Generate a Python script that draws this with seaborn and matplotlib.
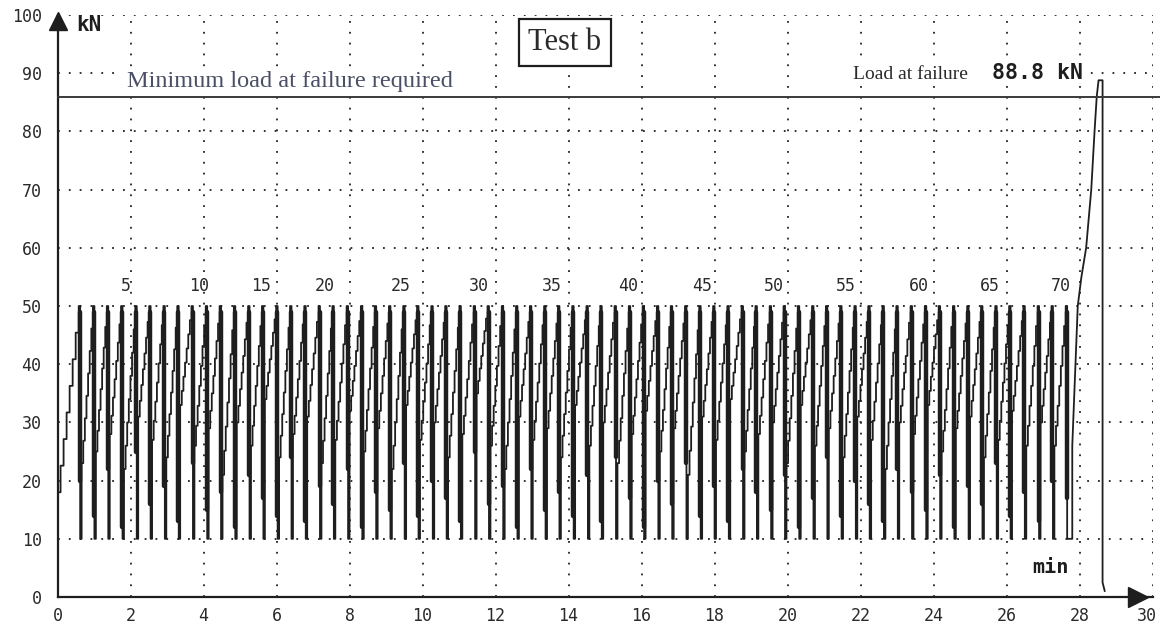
import numpy as np
import pandas as pd
import matplotlib
matplotlib.use("Agg")
import matplotlib.pyplot as plt
import matplotlib.transforms as mtransforms
import seaborn as sns

# ---- data ----
drop_times = [0.62, 1.01, 1.39, 1.78, 2.17, 2.55, 2.94, 3.32, 3.71, 4.10,
              4.48, 4.87, 5.26, 5.64, 6.03, 6.41, 6.80, 7.19, 7.57, 7.96,
              8.35, 8.73, 9.12, 9.51, 9.89, 10.28, 10.66, 11.05, 11.44, 11.82,
              12.21, 12.60, 12.98, 13.37, 13.75, 14.14, 14.53, 14.91, 15.30, 15.69,
              16.07, 16.46, 16.84, 17.23, 17.62, 18.00, 18.39, 18.78, 19.16, 19.55,
              19.93, 20.32, 20.71, 21.09, 21.48, 21.87, 22.25, 22.64, 23.02, 23.41,
              23.80, 24.18, 24.57, 24.96, 25.34, 25.73, 26.11, 26.50, 26.89, 27.27,
              27.66]
start_levels = [18, 23, 25, 28, 22, 31, 27, 24, 33, 26,
                29, 21, 30, 26, 34, 24, 28, 31, 23, 27,
                32, 25, 29, 22, 33, 27, 30, 24, 28, 35,
                26, 22, 31, 27, 29, 24, 33, 26, 30, 23,
                28, 32, 25, 29, 21, 31, 27, 34, 25, 28,
                30, 23, 33, 26, 29, 24, 31, 27, 22, 30,
                28, 33, 25, 29, 31, 24, 27, 32, 26, 30,
                26]
thick_lows = [20, 14, 22, 12, 25, 16, 19, 13, 23, 15,
              18, 12, 21, 17, 14, 24, 13, 19, 16, 22,
              12, 18, 15, 23, 14, 20, 17, 13, 25, 16,
              19, 12, 22, 15, 18, 14, 21, 13, 24, 17,
              12, 20, 16, 23, 14, 19, 13, 22, 18, 15,
              21, 12, 17, 24, 14, 20, 16, 13, 22, 18,
              15, 21, 12, 19, 16, 23, 14, 18, 13, 20,
              17]
peak_load = 50.0
valley_load = 10.0
ramp_t = [27.80, 27.80, 27.95, 28.05, 28.18, 28.32, 28.41, 28.47, 28.52, 28.63, 28.63, 28.69]
ramp_load = [10.0, 26.0, 50.0, 55.0, 60.0, 70.0, 80.0, 86.0, 88.8, 88.8, 2.5, 1.0]
min_required = 86.0
failure_load = 88.8
cycle_label_n = [5, 10, 15, 20, 25, 30, 35, 40, 45, 50, 55, 60, 65, 70]
cycle_label_t = [1.88, 3.87, 5.57, 7.31, 9.41, 11.54, 13.53, 15.63, 17.65, 19.62,
                 21.60, 23.60, 25.54, 27.48]
x_ticks = list(range(0, 31, 2))
y_ticks = list(range(0, 101, 10))

# ---- build the load trace (staircase loading, fast unloading) ----
n_steps = 7
ts, ls = [], []
prev_end = 0.0
for i, (td, lo) in enumerate(zip(drop_times, start_levels)):
    t0 = prev_end + (0.0 if i == 0 else 0.04)
    if i > 0:
        ts += [t0]
        ls += [valley_load]
    t_top = td - 0.04
    levels = np.linspace(lo, peak_load, n_steps + 1)
    times = np.linspace(t0, t_top, n_steps + 1)
    for k in range(n_steps):
        ts += [times[k], times[k + 1]]
        ls += [levels[k], levels[k]]
    ts += [t_top, td, td]
    ls += [peak_load, peak_load, valley_load]
    prev_end = td
ts += ramp_t
ls += ramp_load
trace = pd.DataFrame({"t": ts, "load": ls})

thick = pd.DataFrame({
    "t": np.repeat(drop_times, 2) - 0.012,
    "load": np.ravel([[peak_load - 1, lo] for lo in thick_lows]),
    "g": np.repeat(np.arange(len(drop_times)), 2),
})

# ---- figure ----
sns.set_theme(style="white")
plt.rcParams["font.family"] = ["DejaVu Sans Mono"]
fig = plt.figure(figsize=(11.6, 6.25), dpi=100)
ax = fig.add_axes([0.0496, 0.0448, 0.944, 0.931])

ink = "#1e1e1e"
grid_kw = dict(color="#222222", linestyle=(0, (1, 5)), lw=1.3, zorder=0.5)

ax.set_xlim(0, 30)
ax.set_ylim(0, 100)

# dotted grid (the 90 kN line is interrupted by the annotation band)
for v in x_ticks[1:]:
    ax.axvline(v, **grid_kw)
for v in y_ticks[1:]:
    if v == 90:
        ax.hlines(v, 0, 1.75, **grid_kw)
        ax.hlines(v, 28.0, 30, **grid_kw)
    else:
        ax.axhline(v, **grid_kw)

sns.lineplot(data=trace, x="t", y="load", ax=ax, sort=False, estimator=None,
             color=ink, lw=1.3, zorder=3)
sns.lineplot(data=thick, x="t", y="load", units="g", ax=ax, estimator=None,
             sort=False, color=ink, lw=3.2, zorder=3)

ax.set_xticks(x_ticks)
ax.set_yticks(y_ticks)
ax.set_xticklabels([str(v) for v in x_ticks], fontsize=12, color="#2a2a2a")
ax.set_yticklabels([str(v) for v in y_ticks], fontsize=12, color="#2a2a2a")
ax.tick_params(axis="both", direction="inout", length=7, width=1.2, color=ink)
ax.tick_params(axis="y", pad=8)
ax.tick_params(axis="x", pad=4)
last = ax.get_xticklabels()[-1]
last.set_transform(last.get_transform() + mtransforms.ScaledTranslation(-6 / 100, 0, fig.dpi_scale_trans))
ax.set_xlabel("")
ax.set_ylabel("")
ax.grid(False)
for s in ["top", "right"]:
    ax.spines[s].set_visible(False)
for s in ["left", "bottom"]:
    ax.spines[s].set_color(ink)
    ax.spines[s].set_linewidth(1.6)

# axis arrows
ax.plot([0], [99], marker="^", markersize=13, color=ink, clip_on=False, zorder=5)
ax.plot([29.6], [0], marker=">", markersize=14, color=ink, clip_on=False, zorder=5)

# minimum load line
ax.axhline(min_required, xmin=0, xmax=1.01, color="#3a3a3a", lw=1.4, clip_on=False, zorder=4)
ax.text(1.9, min_required + 0.8, "Minimum load at failure required",
        family="Liberation Serif", fontsize=17.5, color="#4a4f66", va="bottom", zorder=6,
        bbox=dict(boxstyle="square,pad=0.1", fc="white", ec="none"))
ax.text(21.8, 88.4, "Load at failure", family="Liberation Serif", fontsize=14,
        color="#2a2a2a", va="bottom", zorder=6,
        bbox=dict(boxstyle="square,pad=0.1", fc="white", ec="none"))
ax.text(25.6, 88.3, f"{failure_load:.1f} kN", family="DejaVu Sans Mono",
        fontweight="bold", fontsize=15.5, color=ink, va="bottom", zorder=6,
        bbox=dict(boxstyle="square,pad=0.1", fc="white", ec="none"))

ax.text(0.5, 98.3, "kN", fontweight="bold", fontsize=15, color=ink, va="center", zorder=6)
ax.text(26.7, 5.0, "min", fontweight="bold", fontsize=14.5, color=ink, va="center", zorder=6,
        bbox=dict(boxstyle="square,pad=0.05", fc="white", ec="none"))

ax.text(13.9, 95.3, "Test b", family="Liberation Serif", fontsize=22, color="#2a2a2a",
        ha="center", va="center", zorder=6,
        bbox=dict(boxstyle="square,pad=0.3", fc="white", ec=ink, lw=1.6))

for n, t in zip(cycle_label_n, cycle_label_t):
    ax.text(t, 53.5, str(n), fontsize=12, color="#2a2a2a", ha="center", va="center", zorder=6)

fig.savefig("out.png", dpi=100, facecolor="white")
